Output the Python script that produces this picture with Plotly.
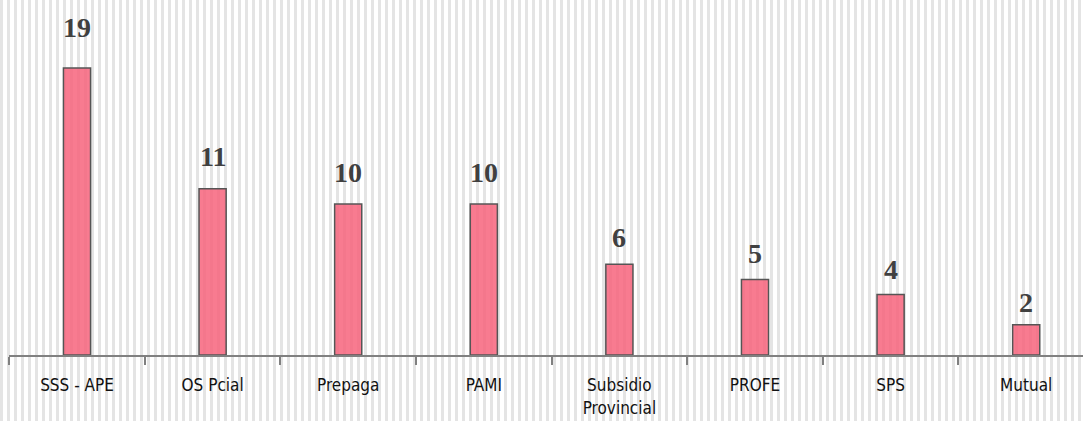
import plotly.graph_objects as go

categories = ["SSS - APE", "OS Pcial", "Prepaga", "PAMI", "Subsidio<br>Provincial", "PROFE", "SPS", "Mutual"]
values = [19, 11, 10, 10, 6, 5, 4, 2]

W, H = 1083, 421
LEFT = 9.2          # left edge of the category axis, px
CAT_W = 135.6       # width of one category, px
n_visible = (W - LEFT) / CAT_W

fig = go.Figure()

# background stripes subplot (full paper)
fig.add_trace(go.Scatter(x=[], y=[], xaxis="x", yaxis="y", showlegend=False, hoverinfo="skip"))

# main bars
fig.add_trace(go.Bar(
    x=categories, y=values, xaxis="x2", yaxis="y2",
    marker=dict(color="rgba(247,100,124,0.85)", line=dict(color="#555555", width=1.5)),
    width=0.2, showlegend=False, hoverinfo="skip",
))

annotations = []
for c, v in zip(categories, values):
    annotations.append(dict(
        x=c, y=v * 1.07 + 1.36, xref="x2", yref="y2", text=str(v), showarrow=False,
        yanchor="middle", font=dict(family="Liberation Serif", size=28, color="#404040", weight="bold"),
    ))

fig.update_layout(
    width=W, height=H,
    margin=dict(l=0, r=0, t=0, b=0),
    paper_bgcolor="white", plot_bgcolor="rgba(0,0,0,0)",
    xaxis=dict(domain=[0, 1], range=[-1.5, W - 1.5], tick0=0, dtick=7, showgrid=True,
               gridcolor="#e4e4e4", gridwidth=3, showticklabels=False, zeroline=False,
               ticks="", showline=False, fixedrange=True),
    yaxis=dict(domain=[0, 1], range=[0, 1], visible=False, fixedrange=True),
    xaxis2=dict(domain=[LEFT / W, 1], anchor="y2", type="category",
                range=[-0.5, -0.5 + n_visible], showline=True,
                linecolor="#808080", linewidth=2, ticks="outside", tickson="boundaries",
                ticklen=8, tickwidth=2, tickcolor="#808080", showgrid=False, zeroline=False,
                ticklabelstandoff=14,
                tickfont=dict(family="DejaVu Sans Condensed", size=17, color="#111111")),
    yaxis2=dict(domain=[66 / H, 1], anchor="x2", range=[0, 23.5], visible=False),
    annotations=annotations,
)

fig.write_html("out.html", config={"displayModeBar": False},
               post_script="document.body.style.margin='0';document.body.style.overflow='hidden';")
